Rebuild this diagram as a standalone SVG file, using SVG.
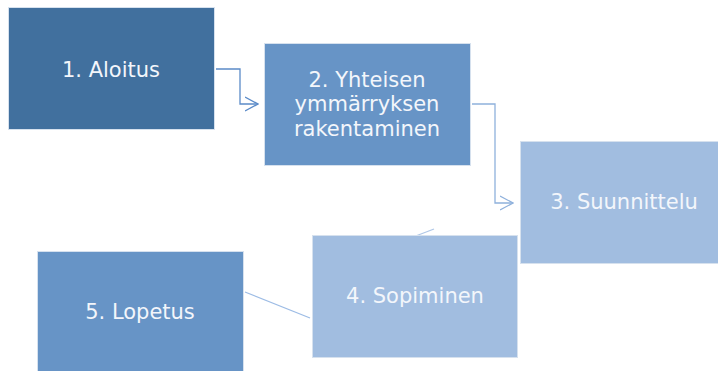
<svg xmlns="http://www.w3.org/2000/svg" width="718" height="371" viewBox="0 0 718 371">
<style>
.box{stroke:#d6e1ee;stroke-width:1}
.t{font-family:"DejaVu Sans",Verdana,sans-serif;font-size:21px;fill:#f3f6fb;text-anchor:middle}
.c{fill:none;stroke-width:1.3;stroke-linejoin:miter}
</style>
<defs>
<marker id="arr" viewBox="0 0 14 16" refX="13" refY="8" markerWidth="14" markerHeight="16" markerUnits="userSpaceOnUse" orient="auto">
<path d="M0,1 L13,8 L0,15" fill="none" stroke="context-stroke" stroke-width="1.3"/>
</marker>
</defs>
<rect width="718" height="371" fill="#ffffff"/>
<g id="connectors">
<polyline class="c" stroke="#5b8bc8" points="216,69 240,69 240,104 258,104" marker-end="url(#arr)"/>
<polyline class="c" stroke="#8fb1dc" points="472,104 495,104 495,203 513,203" marker-end="url(#arr)"/>
<line class="c" stroke="#afc7e7" x1="434" y1="229" x2="400" y2="242"/>
<line class="c" stroke="#9dbce5" x1="310" y1="318" x2="245" y2="292"/>
</g>
<g id="node1">
<rect class="box" x="8.5" y="7.5" width="206" height="122" fill="#41709e"/>
<text class="t" x="111" y="77">1. Aloitus</text>
</g>
<g id="node2">
<rect class="box" x="264.5" y="43.5" width="206" height="122" fill="#6794c6"/>
<text class="t" x="367" y="87">2. Yhteisen</text>
<text class="t" x="367" y="111">ymmärryksen</text>
<text class="t" x="367" y="135.5">rakentaminen</text>
</g>
<g id="node3">
<rect class="box" x="520.5" y="141.5" width="206" height="122" fill="#a1bde0"/>
<text class="t" x="624" y="209">3. Suunnittelu</text>
</g>
<g id="node4">
<rect class="box" x="312.5" y="235.5" width="205" height="122" fill="#a1bde0"/>
<text class="t" x="415" y="303">4. Sopiminen</text>
</g>
<g id="node5">
<rect class="box" x="37.5" y="251.5" width="206" height="122" fill="#6794c6"/>
<text class="t" x="140" y="319">5. Lopetus</text>
</g>
</svg>
